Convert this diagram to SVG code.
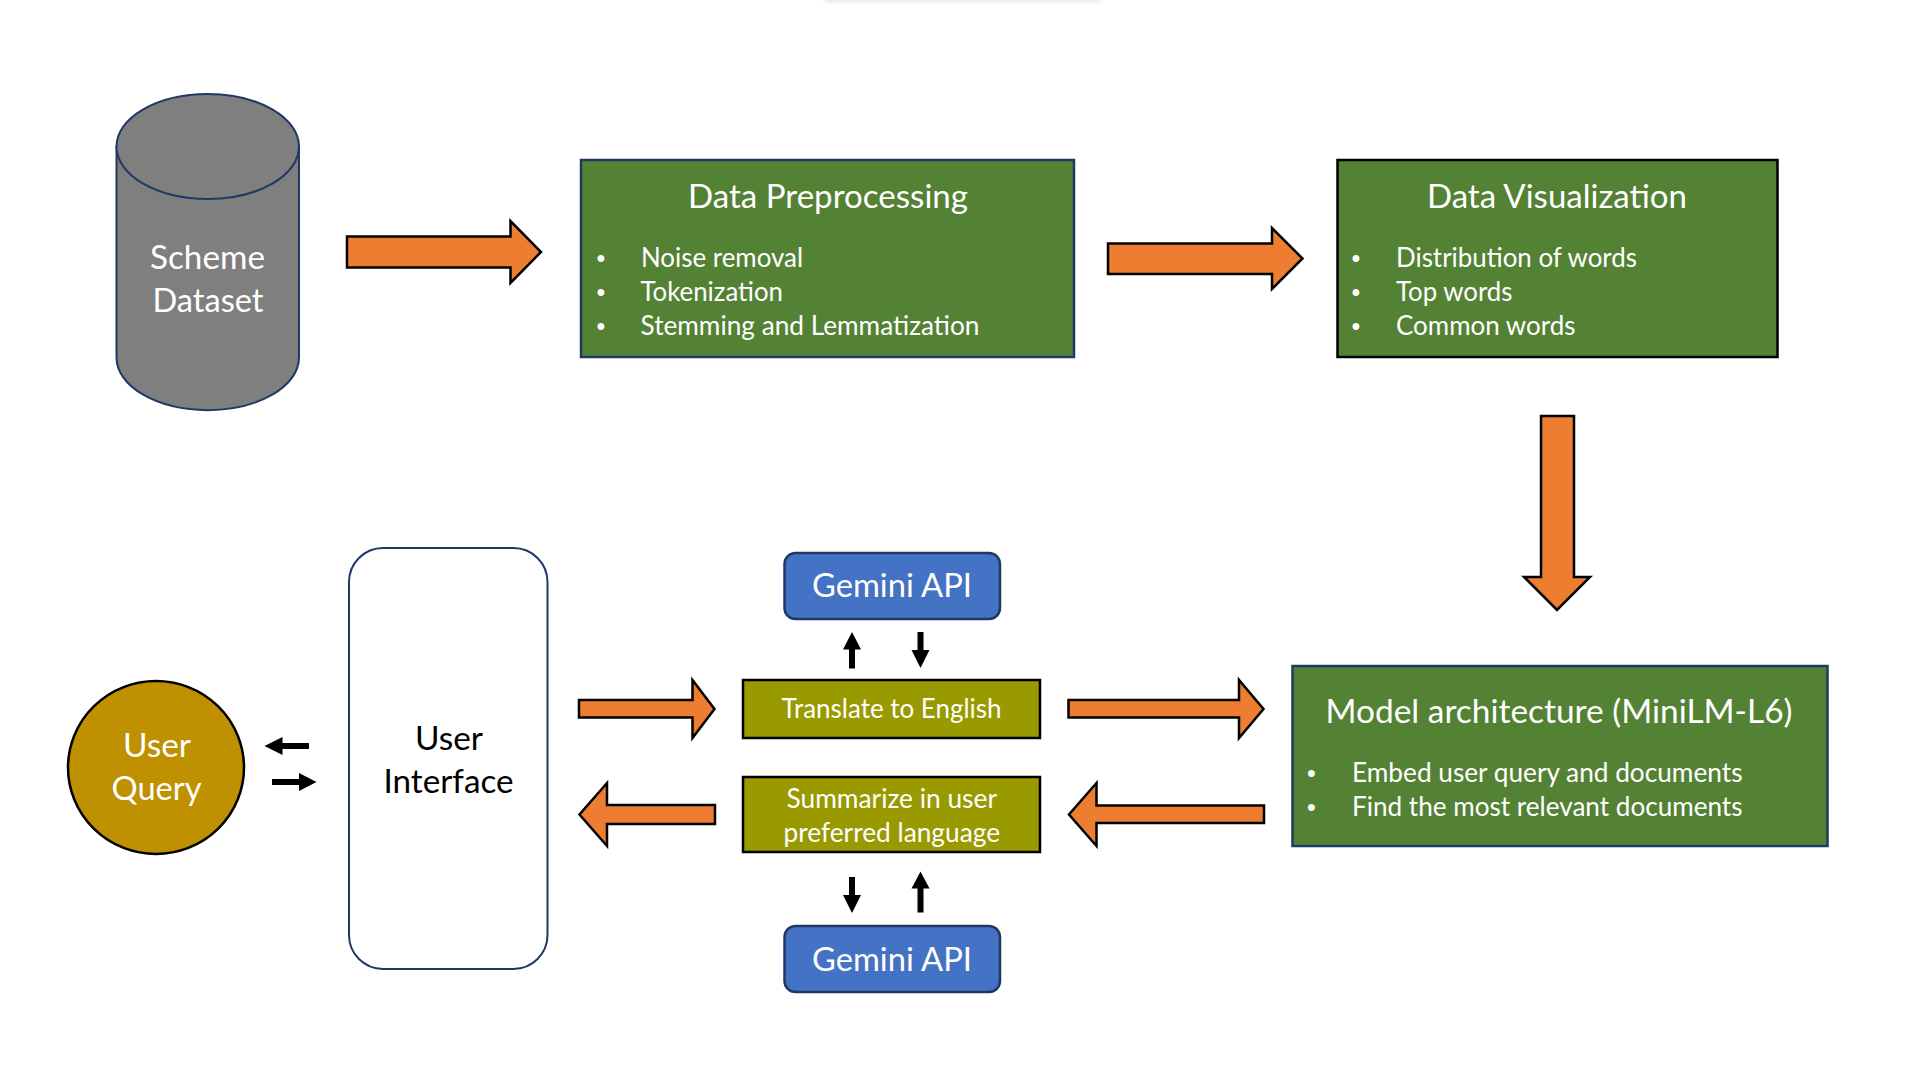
<svg xmlns="http://www.w3.org/2000/svg" width="1920" height="1080" viewBox="0 0 1920 1080">
<defs>
<style>
text{font-family:"Lato","Open Sans",sans-serif;fill:#fff}
.lg{font-size:32.5px}
.sm{font-size:26px}
.dk{fill:#000}
.bl{font-family:"Liberation Sans",sans-serif;font-size:25px;text-anchor:middle}
.big{stroke:#000;stroke-width:2.5;fill:#ed7d31;stroke-linejoin:miter;stroke-miterlimit:4}
.tiny{fill:#000;stroke:none}
.green{fill:#548235;stroke-width:2.5}
.olive{fill:#999900;stroke:#000;stroke-width:2.5}
.blue{fill:#4472c4;stroke:#1f3864;stroke-width:2.5}
</style>
<filter id="soft" x="-10%" y="-200%" width="120%" height="500%"><feGaussianBlur stdDeviation="2"/></filter>
</defs>
<rect width="1920" height="1080" fill="#fff"/>
<rect x="825" y="-6" width="275" height="8" fill="#e8e8e8" filter="url(#soft)"/>

<g id="connectors">
<path class="big" d="M347 236.500H510.500V221L541 252 510.500 283V267.500H347Z"/>
<path class="big" d="M1108 243.500H1272V228L1302.500 258.500 1272 289V274H1108Z"/>
<path class="big" d="M1541 416H1574V577H1590L1557 610 1524 577H1541Z"/>
<path class="big" d="M579 700H692.500V680L714.500 709 692.500 738V717.500H579Z"/>
<path class="big" d="M1068.500 700H1239V680L1263.500 709 1239 738V717.500H1068.500Z"/>
<path class="big" d="M1264 805.500H1096.500V783L1069 814.500 1096.500 846V823H1264Z"/>
<path class="big" d="M715 805H607V783L579.500 814.500 607 846V824H715Z"/>
<path class="tiny" d="M849 668.500V649.500H843L852 632 861 649.500H855V668.500Z"/>
<path class="tiny" d="M917.500 632V650H911.500L920.500 668 929.500 650H923.500V632Z"/>
<path class="tiny" d="M849 877V895H843L852 913 861 895H855V877Z"/>
<path class="tiny" d="M917.500 912.500V888.500H911.500L920.500 871.500 929.500 888.500H923.500V912.500Z"/>
<path class="tiny" d="M309 743V749H282.500V755L264.500 746 282.500 737V743Z"/>
<path class="tiny" d="M272 779H299V773L316.500 782 299 791V785H272Z"/>
</g>

<g id="scheme-dataset">
<path d="M116.500 146.500V357.500A91 52.500 0 0 0 299 357.500V146.500Z" fill="#7f7f7f" stroke="#1f3864" stroke-width="2"/>
<ellipse cx="207.750" cy="146.500" rx="91.250" ry="52.500" fill="#7f7f7f" stroke="#1f3864" stroke-width="2"/>
<text class="lg" x="150" y="268.500" textLength="115" lengthAdjust="spacingAndGlyphs">Scheme</text>
<text class="lg" x="152.500" y="311.500" textLength="111" lengthAdjust="spacingAndGlyphs">Dataset</text>
</g>

<g id="data-preprocessing">
<rect class="green" x="581" y="160" width="493" height="197" stroke="#1f3864"/>
<text class="lg" x="688" y="207.500" textLength="280" lengthAdjust="spacingAndGlyphs">Data Preprocessing</text>
<text class="bl" x="601" y="266.500">•</text>
<text class="bl" x="601" y="300.500">•</text>
<text class="bl" x="601" y="334.500">•</text>
<text class="sm" x="641" y="267" textLength="162" lengthAdjust="spacingAndGlyphs">Noise removal</text>
<text class="sm" x="640.500" y="301" textLength="142.500" lengthAdjust="spacingAndGlyphs">Tokenization</text>
<text class="sm" x="640.500" y="335" textLength="339" lengthAdjust="spacingAndGlyphs">Stemming and Lemmatization</text>
</g>

<g id="data-visualization">
<rect class="green" x="1337.500" y="160" width="440" height="197" stroke="#000"/>
<text class="lg" x="1427" y="207.500" textLength="260" lengthAdjust="spacingAndGlyphs">Data Visualization</text>
<text class="bl" x="1356" y="266.500">•</text>
<text class="bl" x="1356" y="300.500">•</text>
<text class="bl" x="1356" y="334.500">•</text>
<text class="sm" x="1396" y="267" textLength="241" lengthAdjust="spacingAndGlyphs">Distribution of words</text>
<text class="sm" x="1396" y="301" textLength="116.500" lengthAdjust="spacingAndGlyphs">Top words</text>
<text class="sm" x="1396" y="335" textLength="179.500" lengthAdjust="spacingAndGlyphs">Common words</text>
</g>

<g id="model-architecture">
<rect class="green" x="1292.500" y="666" width="535" height="180" stroke="#1f3864"/>
<text class="lg" x="1325.500" y="722.500" textLength="467" lengthAdjust="spacingAndGlyphs">Model architecture (MiniLM-L6)</text>
<text class="bl" x="1311.500" y="781.500">•</text>
<text class="bl" x="1311.500" y="815.500">•</text>
<text class="sm" x="1352" y="782" textLength="390.500" lengthAdjust="spacingAndGlyphs">Embed user query and documents</text>
<text class="sm" x="1352" y="816" textLength="390.500" lengthAdjust="spacingAndGlyphs">Find the most relevant documents</text>
</g>

<g id="user-query">
<ellipse cx="156" cy="767.500" rx="88" ry="86.500" fill="#bf9000" stroke="#000" stroke-width="2.500"/>
<text class="lg" x="123" y="757" textLength="68" lengthAdjust="spacingAndGlyphs">User</text>
<text class="lg" x="111.500" y="800" textLength="90" lengthAdjust="spacingAndGlyphs">Query</text>
</g>

<g id="user-interface">
<rect x="349" y="548" width="198.500" height="421" rx="34" ry="34" fill="#fff" stroke="#1f3864" stroke-width="2"/>
<text class="lg dk" x="415" y="749.500" textLength="68" lengthAdjust="spacingAndGlyphs">User</text>
<text class="lg dk" x="383.500" y="793" textLength="130" lengthAdjust="spacingAndGlyphs">Interface</text>
</g>

<g id="gemini-top">
<rect class="blue" x="784.500" y="553" width="215.500" height="66" rx="11"/>
<text class="lg" x="812" y="597" textLength="160" lengthAdjust="spacingAndGlyphs">Gemini API</text>
</g>

<g id="translate">
<rect class="olive" x="743" y="680" width="297" height="58"/>
<text class="sm" x="781.500" y="718" textLength="220" lengthAdjust="spacingAndGlyphs">Translate to English</text>
</g>

<g id="summarize">
<rect class="olive" x="743" y="777" width="297" height="75"/>
<text class="sm" x="786.500" y="807.500" textLength="210.500" lengthAdjust="spacingAndGlyphs">Summarize in user</text>
<text class="sm" x="783.500" y="841.500" textLength="216.500" lengthAdjust="spacingAndGlyphs">preferred language</text>
</g>

<g id="gemini-bottom">
<rect class="blue" x="784.500" y="926" width="215.500" height="66" rx="11"/>
<text class="lg" x="812" y="971" textLength="160" lengthAdjust="spacingAndGlyphs">Gemini API</text>
</g>
</svg>
